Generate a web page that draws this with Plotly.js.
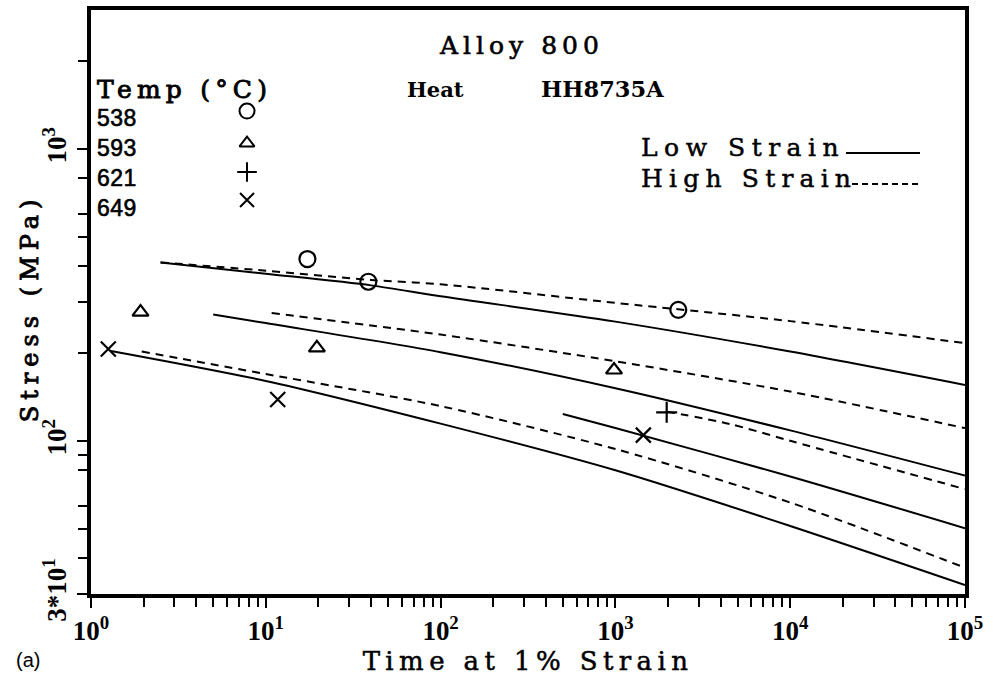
<!DOCTYPE html>
<html>
<head>
<meta charset="utf-8">
<script src="https://cdn.plot.ly/plotly-3.0.1.min.js"></script>
<style>html,body{margin:0;padding:0;background:#fff;}#chart{width:993px;height:681px;}</style>
</head>
<body>
<div id="chart"></div>
<script>
// ---- data (time in h, stress in MPa) ----
const temps = ['538', '593', '621', '649'];

// measured points
const pts538_t = [17.3, 38.6, 2290];
const pts538_s = [421, 352, 282];
const pts593_t = [1.92, 19.6, 982];
const pts593_s = [277, 209, 175.5];
const pts621_t = [1965];
const pts621_s = [125.7];
const pts649_t = [1.256, 11.7, 1445];
const pts649_s = [207, 139, 105];

// low-strain (solid) curves
const low538_t = [2.5, 10, 40, 100, 1000, 10000, 100000];
const low538_s = [410, 375, 342, 314, 257, 203, 156];
const low593_t = [5, 10, 100, 1000, 10000, 100000];
const low593_s = [272, 254, 202, 152, 109, 76.3];
const low621_t = [500, 1000, 10000, 100000];
const low621_s = [124, 111, 75.8, 50.4];
const low649_t = [1.3, 10, 100, 1000, 10000, 100000];
const low649_s = [204, 161, 115, 79.6, 51.3, 32.2];

// high-strain (dashed) curves
const high538_t = [2.5, 10, 40, 100, 1000, 10000, 100000];
const high538_s = [410, 384, 357, 345, 298, 258, 217];
const high593_t = [10.8, 100, 1000, 10000, 100000];
const high593_s = [275, 232, 188, 148, 111];
const high621_t = [1965, 4525, 10000, 100000];
const high621_s = [126.4, 114.6, 100.4, 68.6];
const high649_t = [1.95, 10, 100, 1000, 10000, 100000];
const high649_s = [203, 170, 132, 94.1, 61.7, 36.9];

// axis ticks
const xTickVals = [1, 10, 100, 1000, 10000, 100000];
const xTickText = ['10<sup>0</sup>', '10<sup>1</sup>', '10<sup>2</sup>', '10<sup>3</sup>', '10<sup>4</sup>', '10<sup>5</sup>'];
const yTickVals = [30, 100, 1000];
const yTickText = ['3*10<sup>1</sup>', '10<sup>2</sup>', '10<sup>3</sup>'];
const yMinorVals = [40, 50, 60, 80, 90, 200, 300, 400, 500, 600, 800, 2000];

// ---- build ----
const xMinorVals = [];
for (let d = 1; d <= 10000; d *= 10) for (let k = 2; k <= 9; k++) xMinorVals.push(k * d);

const SERIF = 'DejaVu Serif, serif';
const TICKFONT = 'Liberation Serif, Times New Roman, serif';
const SANS = 'Liberation Sans, Arial, sans-serif';
const LW = 2;
const solid = (t, s) => ({x: t, y: s, mode: 'lines', line: {color: '#000', width: LW, shape: 'spline', smoothing: 0.8}, hoverinfo: 'skip', showlegend: false});
const dashed = (t, s) => ({x: t, y: s, mode: 'lines', line: {color: '#000', width: LW, dash: '8px,6px', shape: 'spline', smoothing: 0.8}, hoverinfo: 'skip', showlegend: false});
const markerStyles = {
  '538': {symbol: 'circle-open', size: 16},
  '593': {symbol: 'triangle-up-open', size: 14},
  '621': {symbol: 'cross-thin-open', size: 15},
  '649': {symbol: 'x-thin-open', size: 15}
};
const pts = (t, s, key) => ({x: t, y: s, mode: 'markers', marker: {symbol: markerStyles[key].symbol, size: markerStyles[key].size, color: '#000', line: {color: '#000', width: 2.2}}, showlegend: false});

const traces = [
  solid(low538_t, low538_s), dashed(high538_t, high538_s),
  solid(low593_t, low593_s), dashed(high593_t, high593_s),
  solid(low621_t, low621_s), dashed(high621_t, high621_s),
  solid(low649_t, low649_s), dashed(high649_t, high649_s),
  pts(pts538_t, pts538_s, '538'), pts(pts593_t, pts593_s, '593'),
  pts(pts621_t, pts621_s, '621'), pts(pts649_t, pts649_s, '649')
];

// legend key markers on a hidden overlay axis (0..1)
const keyX = [0.1785, 0.1785, 0.1785, 0.1785];
const keyY = [0.827, 0.772, 0.7226, 0.6747];
temps.forEach((k, i) => {
  traces.push({x: [keyX[i]], y: [keyY[i]], xaxis: 'x2', yaxis: 'y2', mode: 'markers',
    marker: {symbol: markerStyles[k].symbol, size: markerStyles[k].size - 1, color: '#000', line: {color: '#000', width: 2}}, showlegend: false, hoverinfo: 'skip'});
});

// semi-bold look: regular glyphs with a thin outline, plus letter spacing
const sp = (txt, ls, sw) => '<span style="letter-spacing:' + ls + 'px;stroke:#000;stroke-width:' + (sw || 0.7) + 'px">' + txt + '</span>';
const ann = (text, x, y, xa, size, family) => ({text: text, x: x, y: y, xref: 'paper', yref: 'paper', xanchor: xa, yanchor: 'middle', showarrow: false, font: {family: family || SERIF, size: size, color: '#000'}});

const annotations = [
  ann(sp('Alloy 800', 5, 0.6), 0.493, 0.940, 'center', 25),
  ann(sp('Temp (°C)', 5.2, 0.9), 0.005, 0.8647, 'left', 25),
  ann('<b>Heat</b>', 0.3936, 0.8647, 'center', 21),
  ann('<b>HH8735A</b>', 0.5847, 0.8647, 'center', 22.5),
  ann(sp('Low Strain', 6.5, 0.5), 0.627, 0.7654, 'left', 25),
  ann(sp('High Strain', 6.2, 0.5), 0.627, 0.7123, 'left', 25),
  ann('(a)', -0.088, -0.113, 'left', 20, SANS),
  Object.assign(ann(sp('Stress (MPa)', 6, 0.9), -0.0698, 0.491, 'center', 24), {textangle: -90})
];
const labY = [0.815, 0.7637, 0.7123, 0.661];
temps.forEach((t, i) => annotations.push(ann(sp(t, 0.5, 0.6), 0.005, labY[i], 'left', 23, SANS)));

const shapes = [
  {type: 'line', xref: 'paper', yref: 'paper', x0: 0.8638, x1: 0.9485, y0: 0.7551, y1: 0.7551, line: {color: '#000', width: 2}},
  {type: 'line', xref: 'paper', yref: 'paper', x0: 0.8707, x1: 0.9485, y0: 0.702, y1: 0.702, line: {color: '#000', width: 2, dash: '6px,4px'}}
];

const layout = {
  width: 993, height: 681,
  margin: {l: 91, r: 28, t: 10, b: 87},
  paper_bgcolor: '#fff', plot_bgcolor: '#fff',
  showlegend: false,
  font: {family: SERIF, color: '#000'},
  xaxis: {
    type: 'log', range: [0, 5], showgrid: false, zeroline: false,
    showline: true, linewidth: 4, linecolor: '#000', mirror: true,
    ticks: 'outside', ticklen: 10, tickwidth: 2, tickcolor: '#000',
    tickmode: 'array', tickvals: xTickVals, ticktext: xTickText,
    tickfont: {family: TICKFONT, size: 27, color: '#000', weight: 'bold'},
    minor: {tickmode: 'array', tickvals: xMinorVals, ticks: 'outside', ticklen: 9, tickwidth: 2, tickcolor: '#000', showgrid: false},
    title: {text: sp('Time at 1% Strain', 5.4, 0.5), font: {family: SERIF, size: 26, color: '#000'}, standoff: 0},
    automargin: false
  },
  yaxis: {
    type: 'log', range: [Math.log10(30), Math.log10(3000)], showgrid: false, zeroline: false,
    showline: true, linewidth: 4, linecolor: '#000', mirror: true,
    ticks: 'outside', ticklen: 10, tickwidth: 2, tickcolor: '#000',
    tickmode: 'array', tickvals: yTickVals, ticktext: yTickText, tickangle: -90,
    tickfont: {family: TICKFONT, size: 27, color: '#000', weight: 'bold'},
    minor: {tickmode: 'array', tickvals: yMinorVals, ticks: 'outside', ticklen: 9, tickwidth: 2, tickcolor: '#000', showgrid: false},
    automargin: false
  },
  xaxis2: {overlaying: 'x', range: [0, 1], visible: false, fixedrange: true},
  yaxis2: {overlaying: 'y', range: [0, 1], visible: false, fixedrange: true},
  annotations: annotations,
  shapes: shapes
};

Plotly.newPlot('chart', traces, layout, {staticPlot: true, displayModeBar: false});
</script>
</body>
</html>
